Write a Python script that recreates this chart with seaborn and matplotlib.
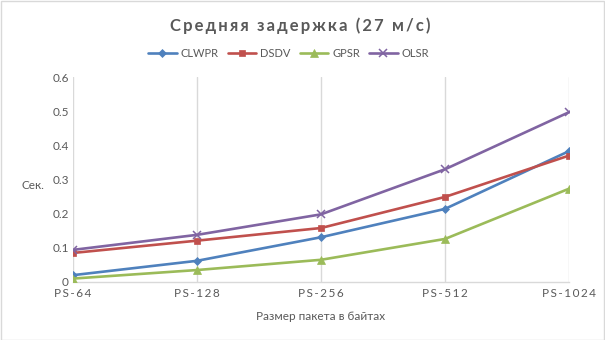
import matplotlib
matplotlib.use("Agg")
import matplotlib.pyplot as plt
import seaborn as sns
import pandas as pd

categories = ["PS-64", "PS-128", "PS-256", "PS-512", "PS-1024"]
clwpr = [0.020, 0.062, 0.131, 0.214, 0.383]
dsdv = [0.085, 0.121, 0.158, 0.249, 0.370]
gpsr = [0.010, 0.035, 0.065, 0.126, 0.273]
olsr = [0.094, 0.138, 0.198, 0.330, 0.497]
yticks = [0, 0.1, 0.2, 0.3, 0.4, 0.5, 0.6]
ytick_labels = ["0", "0.1", "0.2", "0.3", "0.4", "0.5", "0.6"]

series = {"CLWPR": clwpr, "DSDV": dsdv, "GPSR": gpsr, "OLSR": olsr}
rows = []
for name, vals in series.items():
    for i, (c, v) in enumerate(zip(categories, vals)):
        rows.append({"cat": c, "idx": i, "series": name, "value": v})
df = pd.DataFrame(rows)

sns.set_theme(style="white")
plt.rcParams["font.family"] = ["Lato", "DejaVu Sans"]

colors = {"CLWPR": "#4F81BD", "DSDV": "#C0504D", "GPSR": "#9BBB59", "OLSR": "#8064A2"}
markers = {"CLWPR": "D", "DSDV": "s", "GPSR": "^", "OLSR": "x"}
msizes = {"CLWPR": 5, "DSDV": 6, "GPSR": 7, "OLSR": 7}

fig = plt.figure(figsize=(6.05, 3.4), dpi=100)
ax = fig.add_axes([0.1207, 0.1706, 0.8198, 0.6029])

for name in series:
    sub = df[df["series"] == name]
    sns.lineplot(data=sub, x="idx", y="value", ax=ax, color=colors[name],
                 marker=markers[name], markersize=msizes[name], linewidth=1.9,
                 markeredgecolor=colors[name], markeredgewidth=1.1 if name == "OLSR" else 0.5,
                 label=name, legend=False, zorder=3)

ax.set_xlim(0, len(categories) - 1)
ax.set_ylim(0, 0.6)
ax.set_yticks(yticks)
ax.set_yticklabels(ytick_labels)
spaced = ["\u2009".join(list(c)) for c in categories]
ax.set_xticks(range(len(categories)))
ax.set_xticklabels(spaced)
ax.tick_params(axis="both", length=0, labelsize=8.5, labelcolor="#595959")
ax.tick_params(axis="y", pad=3)
ax.tick_params(axis="x", pad=4)
for s in ["top", "right", "left"]:
    ax.spines[s].set_visible(False)
ax.spines["bottom"].set_color("#D9D9D9")
ax.spines["bottom"].set_linewidth(1)
ax.grid(axis="x", color="#D9D9D9", linewidth=1)
ax.grid(axis="y", visible=False)
ax.set_axisbelow(True)

ax.set_xlabel("Размер пакета в байтах", fontsize=8.5, color="#595959", labelpad=9)
ax.set_ylabel("")
fig.text(0.035, 0.455, "Сек.", fontsize=8.5, color="#595959", va="center", ha="left")

title = "\u2009".join(list("Средняя задержка (27 м/с)"))
fig.text(0.497, 0.925, title, fontsize=12, fontweight="bold", color="#595959",
         ha="center", va="center")

handles, labels = ax.get_legend_handles_labels()
for h in handles:
    h.set_markersize(h.get_markersize() * 0.8)
leg = fig.legend(handles, labels, loc="center", bbox_to_anchor=(0.477, 0.843), ncol=4,
                 frameon=False, fontsize=8, handlelength=2.6, columnspacing=0.8,
                 handletextpad=0.35)
for t in leg.get_texts():
    t.set_color("#595959")

fig.patches.append(plt.Rectangle((0.001, 0.001), 0.997, 0.997, transform=fig.transFigure,
                                 fill=False, edgecolor="#D9D9D9", linewidth=1))
fig.savefig("out.png", dpi=100, facecolor="white")
